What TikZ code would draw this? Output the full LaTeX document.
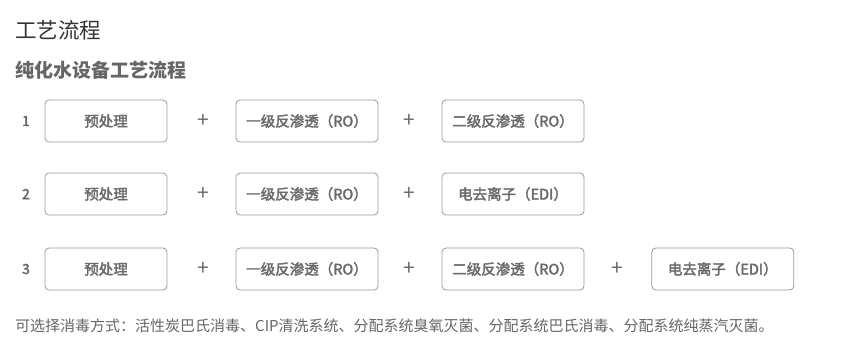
\documentclass[tikz,border=0pt]{standalone}
\usepackage{fontspec}
\setmainfont{Noto Sans CJK SC}
\newfontfamily\mittel[FakeBold=2.5]{Noto Sans CJK SC}
\usetikzlibrary{positioning}
\definecolor{titel}{HTML}{333333}
\definecolor{subtitel}{HTML}{666666}
\definecolor{rand}{HTML}{999999}
\definecolor{schrift}{HTML}{6A6A6A}

\begin{document}
\begin{tikzpicture}[
    x=1pt, y=-1pt,
    stufe/.style={
      draw=rand, rounded corners=4pt, align=center, text=schrift,
      minimum width=142pt, minimum height=42pt, inner sep=0pt,
      font=\fontsize{14.5}{16}\selectfont\mittel, line width=0.8pt
    },
    vorstufe/.style={stufe, minimum width=122pt},
    plus/.style={text=schrift, font=\fontsize{21}{21}\selectfont},
    nummer/.style={text=subtitel, font=\fontsize{14}{16}\selectfont\mittel}
  ]
    \useasboundingbox (0,0) rectangle (852,341);

    % --- Überschriften ---
    \node[anchor=west, inner sep=0pt, text=titel,
      font=\fontsize{21.5}{23}\selectfont] (titel) at (15,30) {工艺流程};
    \node[anchor=west, inner sep=0pt, text=subtitel,
      font=\fontsize{19}{20}\selectfont\bfseries] (subtitel) at (15,70)
      {纯化水设备工艺流程};

    % --- Zeile 1 ---
    \node[vorstufe] (vor1) at (106,121) {预处理};
    \node[nummer] (nr1) at (26,121) {1};
    \node[stufe] (ro1a) at (307,121) {一级反渗透（RO）};
    \node[stufe] (ro1b) at (513,121) {二级反渗透（RO）};
    \node[plus] (p1a) at (203,121) {+};
    \node[plus] (p1b) at (409,121) {+};

    % --- Zeile 2 ---
    \node[vorstufe] (vor2) at (106,194) {预处理};
    \node[nummer] (nr2) at (26,194) {2};
    \node[stufe] (ro2a) at (307,194) {一级反渗透（RO）};
    \node[stufe] (edi2) at (513,194) {电去离子（EDI）};
    \node[plus] (p2a) at (203,194) {+};
    \node[plus] (p2b) at (409,194) {+};

    % --- Zeile 3 ---
    \node[vorstufe] (vor3) at (106,269) {预处理};
    \node[nummer] (nr3) at (26,269) {3};
    \node[stufe] (ro3a) at (307,269) {一级反渗透（RO）};
    \node[stufe] (ro3b) at (513,269) {二级反渗透（RO）};
    \node[stufe, right=67pt of ro3b] (edi3) {电去离子（EDI）};
    \node[plus] (p3a) at (203,269) {+};
    \node[plus] (p3b) at (409,269) {+};
    \node[plus] (p3c) at (617,269) {+};

    % --- Hinweis ---
    \node[anchor=west, inner sep=0pt, text=subtitel,
      font=\fontsize{15}{16}\selectfont] (hinweis) at (15,326)
      {可选择消毒方式：活性炭巴氏消毒、CIP清洗系统、分配系统臭氧灭菌、分配系统巴氏消毒、分配系统纯蒸汽灭菌。};
  \end{tikzpicture}
\end{document}
